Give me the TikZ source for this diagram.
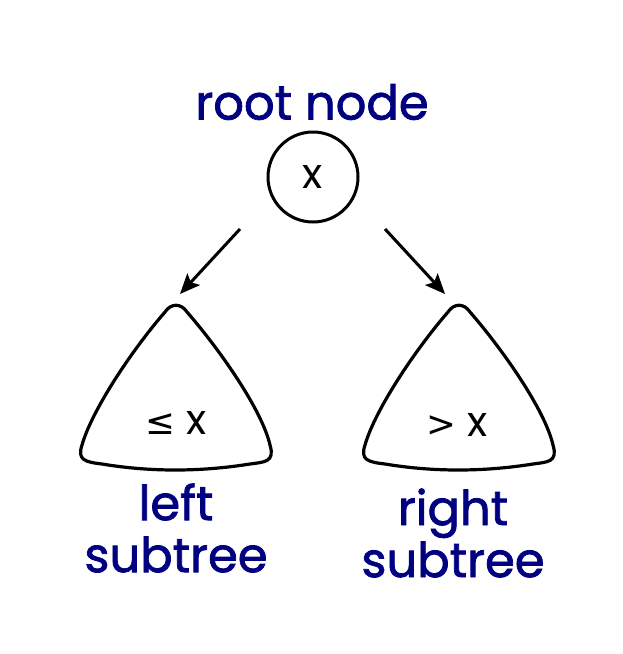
\documentclass[tikz,border=0pt]{standalone}
\usepackage{fontspec}
\setmainfont{Poppins}[BoldFont=Poppins,BoldFeatures={FakeBold=1.6}]
\newfontfamily\symfont{DejaVu Sans}[Scale=0.85]
\usetikzlibrary{arrows.meta}
\definecolor{labelblue}{RGB}{0,0,128}
\tikzset{
  label text/.style={text=labelblue,font=\fontsize{48}{52}\selectfont\bfseries,align=center,inner sep=0pt},
  key text/.style={font=\fontsize{42}{44}\selectfont,inner sep=0pt},
  tree arrow/.style={line width=3pt,-{Stealth[length=20pt,width=17pt,inset=4pt]}}
}
% subtree shape, apex at (#1,#2) in pixel units
\newcommand{\subtreeshape}[2]{
  \begin{scope}[shift={(#1,#2)}]
    \draw[line width=3.2pt,line join=round]
      (-11,7) .. controls (-5,-2) and (5,-2) .. (11,7)
      .. controls (44,45) and (86,105) .. (94,140)
      .. controls (99,157) and (89,157) .. (74,159)
      .. controls (24,167) and (-26,167) .. (-74,159)
      .. controls (-91,157) and (-99,155) .. (-94,140)
      .. controls (-84,105) and (-44,45) .. (-11,7) -- cycle;
  \end{scope}
}
\begin{document}
\begin{tikzpicture}[x=1pt,y=-1pt]
\useasboundingbox (0,0) rectangle (623,654);

%root
\node[label text] (rootlabel) at (312,102) {root node};
\node[circle,draw,line width=3pt,minimum size=90pt,inner sep=0pt,key text] (root) at (313,177) {x};

%left subtree
\subtreeshape{176}{305}
\node[key text] (leftkey) at (176,423) {{\symfont≤} x};
\node[label text] (leftlabel) at (176,528) {left\\subtree};

%right subtree
\subtreeshape{459}{305}
\node[key text] (rightkey) at (457,425) {{\symfont>} x};
\node[label text] (rightlabel) at (453,533) {right\\subtree};

%arrows
\coordinate (lstart) at (240,229);
\coordinate (lend) at (180,294);
\coordinate (rstart) at (385,229);
\coordinate (rend) at (445,294);
\draw[tree arrow] (lstart) -- (lend);
\draw[tree arrow] (rstart) -- (rend);
\end{tikzpicture}
\end{document}
